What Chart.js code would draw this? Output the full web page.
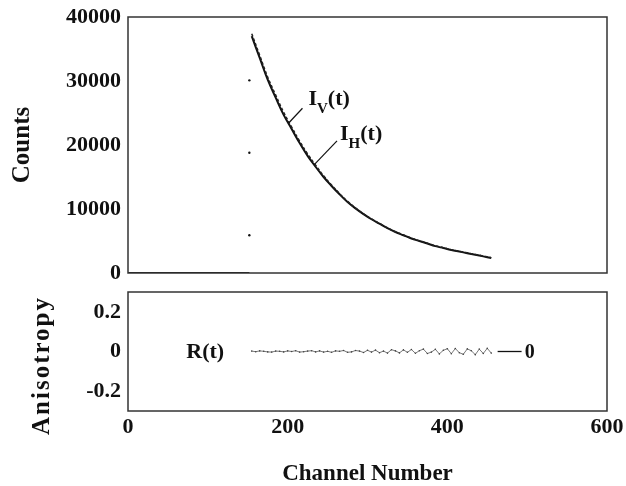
<!DOCTYPE html>
<html>
<head>
<meta charset="utf-8">
<script src="https://cdn.jsdelivr.net/npm/chart.js@4.4.1/dist/chart.umd.min.js"></script>
<style>
  html, body { margin: 0; padding: 0; background: #fff; }
  #wrap { position: relative; width: 626px; height: 486px; }
  canvas { position: absolute; left: 0; }
  #topChart { top: 0; }
  #bottomChart { top: 281px; }
</style>
</head>
<body>
<div id="wrap">
  <canvas id="topChart" width="626" height="281"></canvas>
  <canvas id="bottomChart" width="626" height="205"></canvas>
</div>
<script>
// valores
const decayChannels = [155, 165, 175, 185, 195, 205, 215, 225, 235, 245, 255, 265, 275, 285, 295,
    305, 315, 325, 335, 345, 355, 365, 375, 385, 395, 405, 415, 425, 435, 445, 455];
const ihCounts = [37000, 33600, 30200, 27400, 24700, 22500, 20300, 18300, 16600, 15000, 13600, 12300, 11100, 10100, 9200,
    8400, 7700, 7000, 6400, 5900, 5400, 5000, 4600, 4200, 3900, 3600, 3350, 3100, 2850, 2600, 2350];
const ivCounts = [37400, 34000, 30600, 27800, 25100, 22800, 20600, 18600, 16850, 15200, 13750, 12400, 11200, 10150, 9250,
    8450, 7750, 7050, 6450, 5950, 5450, 5050, 4650, 4250, 3950, 3650, 3400, 3150, 2900, 2650, 2400];
const riseChannels = [152, 152, 152];
const riseCounts = [30100, 18800, 5900];
const baseChannels = [0, 152];
const baseCounts = [0, 0];

const rChannels = [155, 160, 165, 170, 175, 180, 185, 190, 195, 200,
    205, 210, 215, 220, 225, 230, 235, 240, 245, 250,
    255, 260, 265, 270, 275, 280, 285, 290, 295, 300,
    305, 310, 315, 320, 325, 330, 335, 340, 345, 350,
    355, 360, 365, 370, 375, 380, 385, 390, 395, 400,
    405, 410, 415, 420, 425, 430, 435, 440, 445, 450, 455];
const rValues = [0.002, -0.001, 0.003, 0.001, -0.002, -0.003, 0.002, 0.001, -0.002, 0.003,
    0.000, 0.004, -0.003, -0.001, 0.002, 0.004, -0.002, 0.003, -0.003, 0.001,
    -0.004, 0.003, 0.001, 0.005, -0.004, -0.002, 0.005, 0.002, -0.005, 0.006,
    -0.003, 0.007, -0.006, 0.002, -0.008, 0.009, 0.003, -0.007, 0.008, -0.004,
    0.010, -0.009, 0.004, 0.012, -0.010, -0.003, 0.011, -0.012, 0.006, 0.014,
    -0.011, 0.015, -0.006, -0.014, 0.013, 0.004, -0.016, 0.012, -0.010, 0.016, -0.008];

const countTicks = [0, 10000, 20000, 30000, 40000];
const rTicks = [-0.2, 0, 0.2];
const channelTicks = [0, 200, 400, 600];

const FONT = '"Liberation Serif", "Times New Roman", serif';
const INK = '#111';

function pts(xs, ys) {
    return xs.map((x, i) => ({ x: x, y: ys[i] }));
}

function noPad(s) {
    s.paddingTop = 0;
    s.paddingBottom = 0;
}

// marco alrededor del area del grafico
const boxPlugin = {
    id: 'box',
    afterDraw(chart) {
        const a = chart.chartArea;
        const c = chart.ctx;
        c.save();
        c.strokeStyle = '#333';
        c.lineWidth = 1.5;
        c.strokeRect(a.left, a.top, a.right - a.left, a.bottom - a.top);
        c.restore();
    }
};

function subLabel(c, x, y, sub) {
    c.font = 'bold 22px ' + FONT;
    c.fillText('I', x, y);
    const w1 = c.measureText('I').width;
    c.font = 'bold 15px ' + FONT;
    c.fillText(sub, x + w1, y + 8);
    const w2 = c.measureText(sub).width;
    c.font = 'bold 22px ' + FONT;
    c.fillText('(t)', x + w1 + w2, y);
}

// etiquetas I_V(t) e I_H(t)
const curveLabels = [
    { sub: 'V', channel: 201, value: 23400, lx: 14, ly: -15, tx: 20, ty: -18 },
    { sub: 'H', channel: 233, value: 16900, lx: 23, ly: -24, tx: 26, ty: -25 }
];

const topLabelsPlugin = {
    id: 'topLabels',
    afterDatasetsDraw(chart) {
        const c = chart.ctx;
        const sx = chart.scales.x, sy = chart.scales.y;
        c.save();
        c.fillStyle = INK;
        c.strokeStyle = INK;
        c.lineWidth = 1.2;
        c.textBaseline = 'alphabetic';
        curveLabels.forEach(l => {
            const px = sx.getPixelForValue(l.channel);
            const py = sy.getPixelForValue(l.value);
            c.beginPath();
            c.moveTo(px, py);
            c.lineTo(px + l.lx, py + l.ly);
            c.stroke();
            subLabel(c, px + l.tx, py + l.ty, l.sub);
        });
        c.restore();
    }
};

const bottomLabelsPlugin = {
    id: 'bottomLabels',
    afterDatasetsDraw(chart) {
        const c = chart.ctx;
        const sx = chart.scales.x, sy = chart.scales.y;
        const a = chart.chartArea;
        const y0 = sy.getPixelForValue(0);
        c.save();
        c.fillStyle = INK;
        c.strokeStyle = INK;
        c.textBaseline = 'middle';
        c.font = 'bold 22px ' + FONT;
        c.fillText('R(t)', sx.getPixelForValue(73), y0 + 1);
        c.lineWidth = 1.3;
        c.beginPath();
        c.moveTo(sx.getPixelForValue(463), y0);
        c.lineTo(sx.getPixelForValue(493), y0);
        c.stroke();
        c.font = 'bold 20px ' + FONT;
        c.fillText('0', sx.getPixelForValue(497), y0 + 1);

        // titulo del eje y, con espaciado entre letras
        c.save();
        c.translate(43, (a.top + a.bottom) / 2 + 14);
        c.rotate(-Math.PI / 2);
        c.textAlign = 'center';
        c.font = 'bold 25px ' + FONT;
        c.letterSpacing = '2px';
        c.fillText('Anisotropy', 0, 0);
        c.restore();
        c.restore();
    }
};

const tickFont = { family: FONT, size: 22, weight: 'bold' };
const plain = v => String(v);

new Chart(document.getElementById('topChart').getContext('2d'), {
    type: 'scatter',
    data: {
        datasets: [
            {
                label: 'baseline',
                data: pts(baseChannels, baseCounts),
                showLine: true,
                borderColor: INK,
                borderWidth: 2,
                pointRadius: 0
            },
            {
                label: 'rise',
                data: pts(riseChannels, riseCounts),
                showLine: false,
                backgroundColor: INK,
                pointRadius: 1.2,
                borderWidth: 0
            },
            {
                label: 'I_V(t)',
                data: pts(decayChannels, ivCounts),
                showLine: true,
                borderColor: '#222',
                borderWidth: 1.5,
                borderDash: [3, 2],
                pointRadius: 0,
                tension: 0.4
            },
            {
                label: 'I_H(t)',
                data: pts(decayChannels, ihCounts),
                showLine: true,
                borderColor: INK,
                borderWidth: 2,
                pointRadius: 0,
                tension: 0.4
            }
        ]
    },
    options: {
        responsive: false,
        animation: false,
        devicePixelRatio: 1,
        layout: { padding: { top: 17, right: 19, left: 0, bottom: 0 } },
        plugins: { legend: { display: false }, tooltip: { enabled: false } },
        scales: {
            x: {
                type: 'linear',
                min: 0,
                max: 600,
                grid: { display: false, drawTicks: false },
                border: { display: false },
                ticks: { display: false },
                afterFit(s) { s.height = 8; s.paddingLeft = 0; s.paddingRight = 0; }
            },
            y: {
                min: 0,
                max: 40000,
                grid: { display: false, drawTicks: false },
                border: { display: false },
                afterBuildTicks(s) { s.ticks = countTicks.map(v => ({ value: v })); },
                ticks: { font: tickFont, color: INK, padding: 7, callback: plain },
                title: {
                    display: true,
                    text: 'Counts',
                    color: INK,
                    font: { family: FONT, size: 25, weight: 'bold', lineHeight: 1 },
                    padding: { top: 10, bottom: 0 }
                },
                afterFit(s) { s.width = 128; noPad(s); }
            }
        }
    },
    plugins: [boxPlugin, topLabelsPlugin]
});

new Chart(document.getElementById('bottomChart').getContext('2d'), {
    type: 'scatter',
    data: {
        datasets: [
            {
                label: 'R(t)',
                data: pts(rChannels, rValues),
                showLine: true,
                borderColor: '#555',
                borderWidth: 0.8,
                pointRadius: 0.8,
                pointBackgroundColor: '#444',
                pointBorderWidth: 0
            }
        ]
    },
    options: {
        responsive: false,
        animation: false,
        devicePixelRatio: 1,
        layout: { padding: { top: 11, right: 19, left: 0, bottom: 0 } },
        plugins: { legend: { display: false }, tooltip: { enabled: false } },
        scales: {
            x: {
                type: 'linear',
                min: 0,
                max: 600,
                grid: { display: false, drawTicks: false },
                border: { display: false },
                afterBuildTicks(s) { s.ticks = channelTicks.map(v => ({ value: v })); },
                ticks: { font: tickFont, color: INK, padding: 3, maxRotation: 0, callback: plain },
                title: {
                    display: true,
                    text: 'Channel Number',
                    color: INK,
                    font: { family: FONT, size: 23, weight: 'bold', lineHeight: 1 },
                    padding: { top: 0, bottom: 0 }
                },
                afterFit(s) { s.height = 75; s.paddingLeft = 0; s.paddingRight = 0; }
            },
            y: {
                min: -0.3,
                max: 0.3,
                grid: { display: false, drawTicks: false },
                border: { display: false },
                afterBuildTicks(s) { s.ticks = rTicks.map(v => ({ value: v })); },
                ticks: { font: tickFont, color: INK, padding: 7, callback: plain },
                afterFit(s) { s.width = 128; noPad(s); }
            }
        }
    },
    plugins: [boxPlugin, bottomLabelsPlugin]
});
</script>
</body>
</html>
